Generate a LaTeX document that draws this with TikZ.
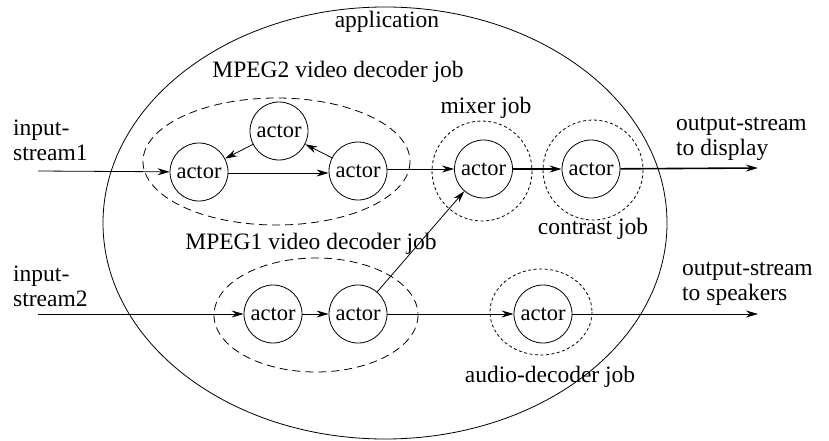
\documentclass[tikz,border=0pt]{standalone}
\usepackage{fontspec}
\setmainfont{LiberationSerif}[Extension=.ttf,UprightFont=*-Regular]
\newfontfamily\tmsfont{LiberationSerif}[Extension=.ttf,UprightFont=*-Regular]
\usetikzlibrary{arrows.meta}
\begin{document}
\begin{tikzpicture}[x=1pt,y=-1pt,
  actor/.style={draw,circle,minimum size=58pt,inner sep=0pt,line width=0.8pt,
    font=\tmsfont\fontsize{22.5}{26}\selectfont},
  lbl/.style={font=\tmsfont\fontsize{23.5}{25}\selectfont,inner sep=0pt},
  flow/.style={line width=0.8pt,-{Stealth[length=12pt,width=7pt]}},
  bold/.style={line width=1.6pt},
  jobd/.style={draw,dash pattern=on 8pt off 5pt,line width=0.8pt},
  jobs/.style={draw,dash pattern=on 3pt off 2.5pt,line width=0.8pt}]
\useasboundingbox (0,0) rectangle (829,441);

% application boundary
\draw[line width=0.8pt] (385,223) ellipse [x radius=282, y radius=216];
\node[lbl] (app) at (387,22) {application};

% job boundaries
\draw[jobd] (276.5,161.5) ellipse [x radius=133.5, y radius=63.5];
\draw[jobd] (316,315) ellipse [x radius=102, y radius=57];
\draw[jobs] (482,171) circle [radius=50];
\draw[jobs] (593,170) circle [radius=50];
\draw[jobs] (541,312) ellipse [x radius=51, y radius=43];

% job labels
\node[lbl] (l2) at (338,72) {MPEG2 video decoder job};
\node[lbl] (l1) at (311,244) {MPEG1 video decoder job};
\node[lbl] (lm) at (486,108) {mixer job};
\node[lbl] (lc) at (593,229) {contrast job};
\node[lbl] (la) at (550,377) {audio-decoder job};

% actors
\node[actor] (a1) at (199,172) {actor};
\node[actor] (a2) at (279,131) {actor};
\node[actor] (a3) at (358,171) {actor};
\node[actor] (b1) at (273,314) {actor};
\node[actor] (b2) at (358,314) {actor};
\node[actor] (mx) at (483.5,169) {actor};
\node[actor] (ct) at (591,169) {actor};
\node[actor] (au) at (543,314) {actor};

% stream ends
\coordinate (in1) at (38,171);
\coordinate (in2) at (38,314);
\coordinate (out1) at (758,168);
\coordinate (out2) at (758,314);

\node[lbl,anchor=west,align=left] (tin1) at (13,140) {input-\\stream1};
\node[lbl,anchor=west,align=left] (tin2) at (13,286) {input-\\stream2};
\node[lbl,anchor=west,align=left] (tout1) at (676,139) {output-stream\\to display};
\node[lbl,anchor=west,align=left] (tout2) at (682,284) {output-stream\\to speakers};

% MPEG2 decoder
\draw[flow] (in1) -- (a1);
\draw[flow] (a1.east |- 0,173) -- (a3.west |- 0,173);
\draw[flow] (a3) -- (a2);
\draw[flow] (a2) -- (a1);
\draw[flow] (a3.east |- 0,169) -- (mx.west |- 0,169);

% MPEG1 decoder
\draw[flow] (in2) -- (b1);
\draw[flow] (b1) -- (b2);
\draw[flow] (b2) -- (mx);
\draw[flow] (b2) -- (au);
\draw[flow] (au) -- (out2);

% mixer and contrast
\draw[flow,bold] (mx) -- (ct);
\draw[flow,bold] (ct) -- (out1);
\end{tikzpicture}
\end{document}
